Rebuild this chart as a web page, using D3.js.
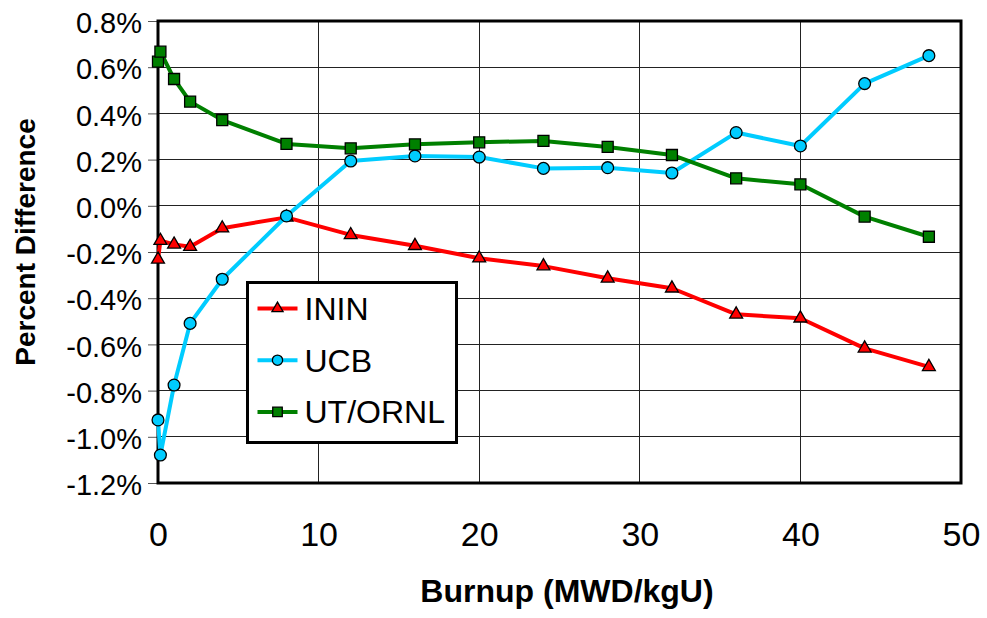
<!DOCTYPE html>
<html>
<head>
<meta charset="utf-8">
<script src="https://cdn.jsdelivr.net/npm/d3@7"></script>
<style>
    body { margin: 0; background: #fff; }
    svg text { font-family: "Liberation Sans", Arial, sans-serif; fill: #000; }
    .grid line { stroke: #222; stroke-width: 1; shape-rendering: crispEdges; }
    .y-axis .tick line { stroke: #555; }
    .axis-title { font-weight: bold; }
</style>
</head>
<body>
<div id="chart"></div>
<script>

// Burnup values (MWD/kgU)
var burnup = [0, 0.15, 1, 2, 4, 8, 12, 16, 20, 24, 28, 32, 36, 40, 44, 48];

// Percent difference per series (%)
var inin   = [-0.232, -0.151, -0.167, -0.177, -0.097, -0.050, -0.126, -0.173, -0.227, -0.261, -0.314, -0.357, -0.470, -0.487, -0.617, -0.697];
var ucb    = [-0.927, -1.079, -0.776, -0.509, -0.318, -0.044, 0.194, 0.216, 0.211, 0.162, 0.165, 0.142, 0.317, 0.259, 0.529, 0.650];
var utornl = [0.624, 0.667, 0.549, 0.451, 0.371, 0.268, 0.249, 0.266, 0.275, 0.281, 0.255, 0.220, 0.119, 0.093, -0.047, -0.134];

var seriesNames = ["ININ", "UCB", "UT/ORNL"];
var xTicks = [0, 10, 20, 30, 40, 50];
var yTicks = [0.8, 0.6, 0.4, 0.2, 0.0, -0.2, -0.4, -0.6, -0.8, -1.0, -1.2];


LineVis = function(_parentElement){
    this.parentElement = _parentElement;
    this.initVis();
};

LineVis.prototype.initVis = function(){
    var vis = this;

    vis.margin = { top: 21, right: 26, bottom: 135, left: 158 };
    vis.width = 987 - vis.margin.left - vis.margin.right;
    vis.height = 618 - vis.margin.top - vis.margin.bottom;

    vis.svg = d3.select("#" + vis.parentElement).append("svg")
        .attr("width", 987)
        .attr("height", 618)
        .append("g")
        .attr("transform", "translate(" + vis.margin.left + "," + vis.margin.top + ")");

    vis.x = d3.scaleLinear().domain([0, 50]).range([0, vis.width]);
    vis.y = d3.scaleLinear().domain([-1.2, 0.8]).range([vis.height, 0]);

    vis.colors = { "ININ": "#ff0000", "UCB": "#00ccff", "UT/ORNL": "#008000" };
    vis.shapes = { "ININ": d3.symbolTriangle, "UCB": d3.symbolCircle, "UT/ORNL": d3.symbolSquare };
    vis.sizes = { "ININ": 72, "UCB": 110, "UT/ORNL": 121 };

    vis.wrangleData();
};

LineVis.prototype.wrangleData = function(){
    var vis = this;
    var values = [inin, ucb, utornl];

    vis.displayData = seriesNames.map(function(name, i){
        return {
            name: name,
            points: burnup.map(function(b, j){ return { x: b, y: values[i][j] }; })
        };
    });

    vis.updateVis();
};

LineVis.prototype.updateVis = function(){
    var vis = this;

    // Gridlines
    var grid = vis.svg.append("g").attr("class", "grid");
    grid.selectAll(".hgrid")
        .data(yTicks)
        .enter().append("line")
        .attr("x1", 0)
        .attr("x2", vis.width)
        .attr("y1", function(d){ return vis.y(d); })
        .attr("y2", function(d){ return vis.y(d); });
    grid.selectAll(".vgrid")
        .data(xTicks)
        .enter().append("line")
        .attr("x1", function(d){ return vis.x(d); })
        .attr("x2", function(d){ return vis.x(d); })
        .attr("y1", 0)
        .attr("y2", vis.height);

    // Axes (plain hyphen for negatives, like the original)
    vis.yAxis = d3.axisLeft(vis.y)
        .tickValues(yTicks)
        .tickSize(10)
        .tickPadding(6)
        .tickFormat(function(d){ return (d < 0 ? "-" : "") + Math.abs(d).toFixed(1) + "%"; });
    vis.xAxis = d3.axisBottom(vis.x)
        .tickValues(xTicks)
        .tickSize(0)
        .tickPadding(39)
        .tickFormat(d3.format("d"));

    var gy = vis.svg.append("g").attr("class", "y-axis").call(vis.yAxis);
    gy.select(".domain").remove();
    gy.selectAll("text")
        .style("font-size", "29px")
        .attr("dy", "0.4em");

    var gx = vis.svg.append("g")
        .attr("class", "x-axis")
        .attr("transform", "translate(0," + vis.height + ")")
        .call(vis.xAxis);
    gx.select(".domain").remove();
    gx.selectAll("text")
        .style("font-size", "34px");

    // Plot frame
    vis.svg.append("rect")
        .attr("x", 0)
        .attr("y", 0)
        .attr("width", vis.width)
        .attr("height", vis.height)
        .style("fill", "none")
        .style("stroke", "#000")
        .style("stroke-width", 3);

    // Series lines + markers
    var line = d3.line()
        .x(function(d){ return vis.x(d.x); })
        .y(function(d){ return vis.y(d.y); });

    var series = vis.svg.selectAll(".series")
        .data(vis.displayData)
        .enter().append("g")
        .attr("class", "series");

    series.append("path")
        .attr("d", function(d){ return line(d.points); })
        .style("fill", "none")
        .style("stroke", function(d){ return vis.colors[d.name]; })
        .style("stroke-width", 4)
        .style("stroke-linejoin", "round");

    series.each(function(s){
        d3.select(this).selectAll(".marker")
            .data(s.points)
            .enter().append("path")
            .attr("class", "marker")
            .attr("transform", function(d){ return "translate(" + vis.x(d.x) + "," + vis.y(d.y) + ")"; })
            .attr("d", d3.symbol().type(vis.shapes[s.name]).size(vis.sizes[s.name]))
            .style("fill", vis.colors[s.name])
            .style("stroke", "#000")
            .style("stroke-width", 1.3);
    });

    // Legend
    var legend = vis.svg.append("g")
        .attr("transform", "translate(" + (247.5 - vis.margin.left) + "," + (282.5 - vis.margin.top) + ")");
    legend.append("rect")
        .attr("width", 209)
        .attr("height", 160)
        .style("fill", "#fff")
        .style("stroke", "#000")
        .style("stroke-width", 3);

    var items = legend.selectAll(".legend-item")
        .data(seriesNames)
        .enter().append("g")
        .attr("class", "legend-item")
        .attr("transform", function(d, i){ return "translate(0," + (26 + i * 51.7) + ")"; });
    items.append("line")
        .attr("x1", 10)
        .attr("x2", 50)
        .style("stroke", function(d){ return vis.colors[d]; })
        .style("stroke-width", 4);
    items.append("path")
        .attr("transform", "translate(30,0)")
        .attr("d", function(d){ return d3.symbol().type(vis.shapes[d]).size(vis.sizes[d] * 0.75)(); })
        .style("fill", function(d){ return vis.colors[d]; })
        .style("stroke", "#000")
        .style("stroke-width", 1.3);
    items.append("text")
        .attr("x", 57)
        .attr("y", 11.5)
        .style("font-size", "32px")
        .text(function(d){ return d; });

    // Axis titles
    vis.svg.append("text")
        .attr("class", "axis-title")
        .attr("x", 567 - vis.margin.left)
        .attr("y", 602 - vis.margin.top)
        .attr("text-anchor", "middle")
        .style("font-size", "32px")
        .text("Burnup (MWD/kgU)");
    vis.svg.append("text")
        .attr("class", "axis-title")
        .attr("transform", "translate(" + (35 - vis.margin.left) + "," + (242 - vis.margin.top) + ") rotate(-90)")
        .attr("text-anchor", "middle")
        .style("font-size", "28px")
        .text("Percent Difference");
};

new LineVis("chart");
</script>
</body>
</html>
